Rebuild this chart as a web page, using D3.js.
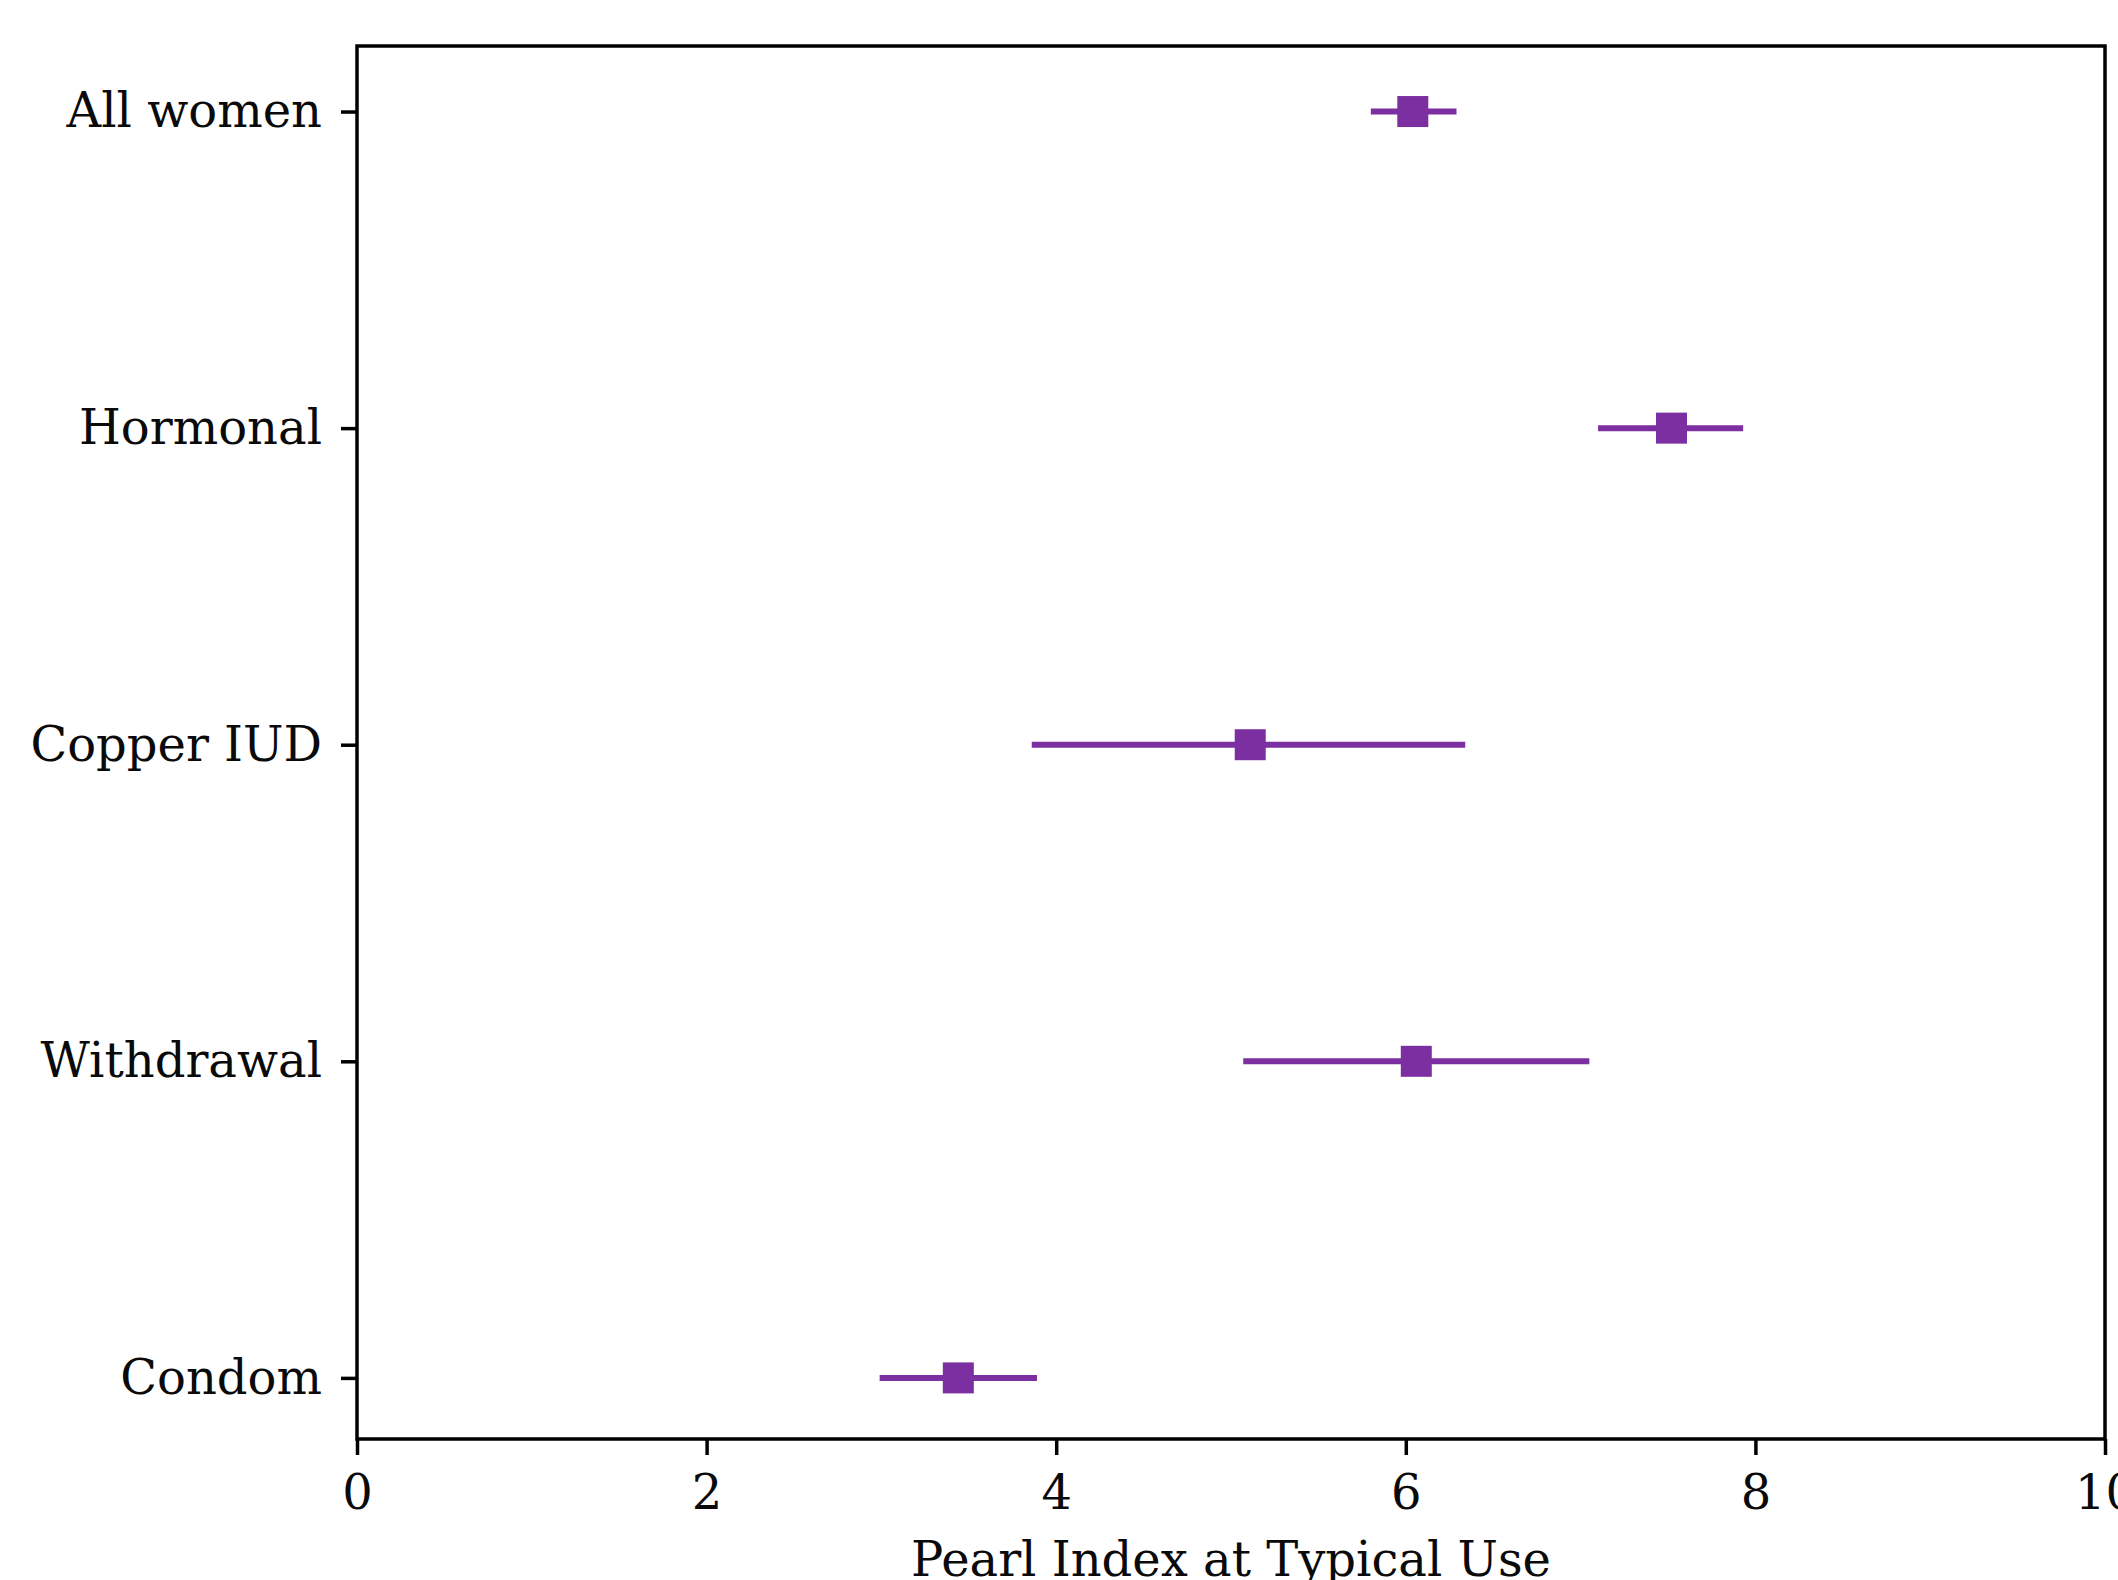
<!DOCTYPE html>
<html>
<head>
<meta charset="utf-8">
<script src="https://cdn.jsdelivr.net/npm/d3@7"></script>
<style>
  html, body { margin: 0; padding: 0; background: #ffffff; }
  svg { display: block; }
</style>
</head>
<body>
<svg id="chart" width="2118" height="1580"></svg>
<script>
// Data
const categories = ["All women", "Hormonal", "Copper IUD", "Withdrawal", "Condom"];
const estimates  = [6.04, 7.52, 5.11, 6.06, 3.44];
const lowerCI    = [5.80, 7.10, 3.86, 5.07, 2.99];
const upperCI    = [6.29, 7.93, 6.34, 7.05, 3.89];
const xTicks     = [0, 2, 4, 6, 8, 10];
const xLabel     = "Pearl Index at Typical Use";

const W = 2118, H = 1580;
const margin = { left: 357, right: W - 2105, top: 46, bottom: H - 1439 };
const color = "#7b2fa0";
const font = "'DejaVu Serif', serif";
const fontSize = 48;

const svg = d3.select("#chart");
svg.append("rect").attr("width", W).attr("height", H).attr("fill", "#fff");

const x = d3.scaleLinear().domain([0, 10]).range([margin.left, W - margin.right]);
const y = d3.scaleLinear().domain([-0.207, categories.length - 1 + 0.193])
            .range([margin.top, H - margin.bottom]);

const rows = categories.map((c, i) => ({ c, i, est: estimates[i], lo: lowerCI[i], hi: upperCI[i] }));

// error bars
const g = svg.append("g");
g.selectAll("line.err").data(rows).enter().append("line")
  .attr("class", "err")
  .attr("x1", d => x(d.lo)).attr("x2", d => x(d.hi))
  .attr("y1", d => y(d.i)).attr("y2", d => y(d.i))
  .attr("stroke", color).attr("stroke-width", 6);

// markers
const ms = 31;
g.selectAll("rect.pt").data(rows).enter().append("rect")
  .attr("class", "pt")
  .attr("x", d => x(d.est) - ms / 2).attr("y", d => y(d.i) - ms / 2)
  .attr("width", ms).attr("height", ms)
  .attr("fill", color);

// axes
const xAxis = d3.axisBottom(x).tickValues(xTicks).tickFormat(d3.format("d"))
  .tickSize(16).tickPadding(20);
const gx = svg.append("g").attr("transform", `translate(0,${H - margin.bottom})`).call(xAxis);
gx.select(".domain").remove();
gx.selectAll(".tick line").attr("stroke", "#000").attr("stroke-width", 3.5);
gx.selectAll(".tick text").attr("font-family", font).attr("font-size", fontSize).attr("fill", "#0a0a0a");

const yAxis = d3.axisLeft(d3.scalePoint().domain(categories).range([y(0), y(categories.length - 1)]))
  .tickSize(16).tickPadding(19);
const gy = svg.append("g").attr("transform", `translate(${margin.left},0)`).call(yAxis);
gy.select(".domain").remove();
gy.selectAll(".tick line").attr("stroke", "#000").attr("stroke-width", 3.5);
gy.selectAll(".tick text").attr("font-family", font).attr("font-size", fontSize).attr("fill", "#0a0a0a");

// frame
svg.append("rect")
  .attr("x", margin.left).attr("y", margin.top)
  .attr("width", W - margin.right - margin.left)
  .attr("height", H - margin.bottom - margin.top)
  .attr("fill", "none").attr("stroke", "#000").attr("stroke-width", 3.5);

// x label
svg.append("text")
  .attr("x", (x(0) + x(10)) / 2).attr("y", 1576)
  .attr("text-anchor", "middle")
  .attr("font-family", font).attr("font-size", fontSize).attr("fill", "#0a0a0a")
  .text(xLabel);
</script>
</body>
</html>
